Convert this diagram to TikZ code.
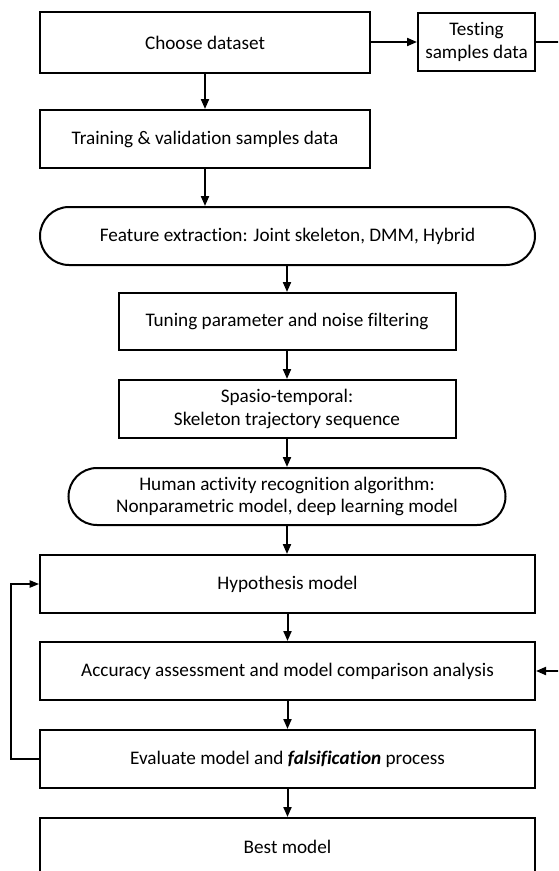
\documentclass[tikz,border=0pt]{standalone}
\usepackage{fontspec}
\setmainfont[Ligatures=NoCommon]{Carlito}
\usetikzlibrary{arrows.meta,shapes.misc}
\begin{document}
\begin{tikzpicture}[x=0.75pt,y=-0.75pt,
  every node/.style={font=\fontsize{14.4pt}{16.8pt}\selectfont, align=center, inner sep=0pt},
  box/.style={draw, line width=1.5pt, rectangle},
  pill/.style={draw, line width=1.5pt, rounded rectangle},
  flow/.style={line width=1.5pt, -{Triangle[length=7.5pt,width=6pt]}},
  thin flow/.style={line width=0.9pt, -{Triangle[length=7pt,width=5.5pt]}}]
\useasboundingbox (0,0) rectangle (558,871);
\clip (0,0) rectangle (558,871);
\node[box, minimum width=330*0.75pt, minimum height=61*0.75pt] (choose) at (205,42.5) {Choose dataset};
\node[box, minimum width=117*0.75pt, minimum height=58*0.75pt] (test) at (476.5,42) {Testing\\samples data};
\node[box, minimum width=330*0.75pt, minimum height=58*0.75pt] (train) at (205,139) {Training \& validation samples data};
\node[pill, minimum width=495*0.75pt, minimum height=58*0.75pt] (feat) at (287.5,236) {Feature extraction: Joint skeleton, DMM, Hybrid};
\node[box, minimum width=337*0.75pt, minimum height=57*0.75pt] (tune) at (287,321.5) {Tuning parameter and noise filtering};
\node[box, minimum width=337*0.75pt, minimum height=58*0.75pt] (spasio) at (287,409) {Spasio-temporal:\\Skeleton trajectory sequence};
\node[pill, minimum width=437*0.75pt, minimum height=57*0.75pt] (har) at (287,496.5) {Human activity recognition algorithm:\\Nonparametric model, deep learning model};
\node[box, minimum width=495*0.75pt, minimum height=58*0.75pt] (hyp) at (287.5,584) {Hypothesis model};
\node[box, minimum width=495*0.75pt, minimum height=58*0.75pt] (acc) at (287.5,671) {Accuracy assessment and model comparison analysis};
\node[box, minimum width=495*0.75pt, minimum height=58*0.75pt] (eval) at (287.5,759) {Evaluate model and \textbf{\textit{falsification}} process};
\node[box, minimum width=495*0.75pt, minimum height=80*0.75pt] (best) at (287.5,858) {};
\node (besttext) at (287.5,847) {Best model};
\coordinate (redge1) at (562,42);
\coordinate (redge2) at (562,671);
\coordinate (loop) at (11,0);
\draw[flow] (choose.east |- test.west) -- (test.west);
\draw[line width=1.5pt] (test.east) -- (redge1);
\draw[flow] (choose.south) -- (train.north);
\draw[flow] (train.south) -- (train.south |- feat.north);
\draw[flow] (tune.north |- feat.south) -- (tune.north);
\draw[flow] (tune.south) -- (spasio.north);
\draw[flow] (spasio.south) -- (har.north);
\draw[flow] (har.south) -- (har.south |- hyp.north);
\draw[flow] (hyp.south) -- (acc.north);
\draw[flow] (acc.south) -- (eval.north);
\draw[flow] (eval.south) -- (best.north);
\draw[flow] (redge2) -- (acc.east);
\draw[thin flow] (eval.west) -- (loop |- eval.west) -- (loop |- hyp.west) -- (hyp.west);
\end{tikzpicture}
\end{document}
